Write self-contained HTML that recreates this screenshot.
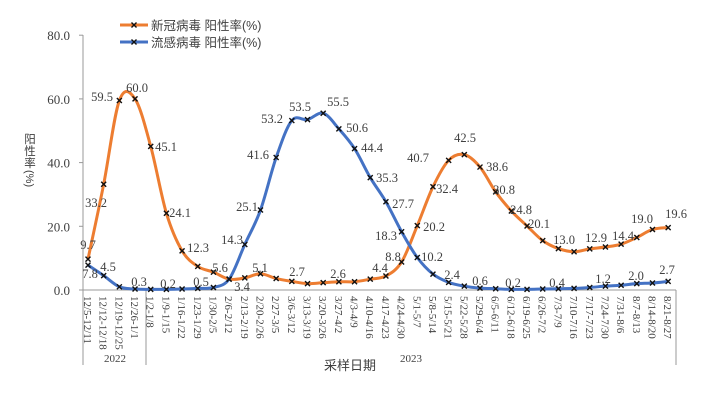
<!DOCTYPE html>
<html><head><meta charset="utf-8"><style>
body{margin:0;background:#fff;width:709px;height:407px;overflow:hidden}
svg text{font-family:"Liberation Serif","Noto Serif CJK SC",serif;fill:#404040}
.cj{font-family:"Liberation Sans","Noto Sans CJK SC",sans-serif}
</style></head><body>
<svg id="s" width="709" height="407" xmlns="http://www.w3.org/2000/svg"></svg>
<script>
const cats=["12/5-12/11","12/12-12/18","12/19-12/25","12/26-1/1","1/2-1/8","1/9-1/15","1/16-1/22","1/23-1/29","1/30-2/5","2/6-2/12","2/13-2/19","2/20-2/26","2/27-3/5","3/6-3/12","3/13-3/19","3/20-3/26","3/27-4/2","4/3-4/9","4/10-4/16","4/17-4/23","4/24-4/30","5/1-5/7","5/8-5/14","5/15-5/21","5/22-5/28","5/29-6/4","6/5-6/11","6/12-6/18","6/19-6/25","6/26-7/2","7/3-7/9","7/10-7/16","7/17-7/23","7/24-7/30","7/31-8/6","8/7-8/13","8/14-8/20","8/21-8/27"];
const cov=[9.7,33.2,59.5,60.0,45.1,24.1,12.3,7.4,5.6,3.4,3.8,5.1,3.6,2.7,2.0,2.3,2.6,2.6,3.4,4.4,8.8,20.2,32.4,40.7,42.5,38.6,30.8,24.8,20.1,15.5,13.0,12.0,12.9,13.5,14.4,16.5,19.0,19.6];
const flu=[7.8,4.5,1.0,0.3,0.2,0.2,0.3,0.5,0.8,3.4,14.3,25.1,41.6,53.2,53.5,55.5,50.6,44.4,35.3,27.7,18.3,10.2,5.0,2.4,1.2,0.6,0.4,0.2,0.2,0.3,0.4,0.5,0.8,1.2,1.5,2.0,2.2,2.7];
const X=i=>88+i*15.68, Y=v=>290-v*3.185;
let h='';
h+='<line x1="83" y1="35" x2="83" y2="290" stroke="#999"/>';
[0,20,40,60,80].forEach(v=>{h+=`<line x1="79" y1="${Y(v)}" x2="83" y2="${Y(v)}" stroke="#999"/><text x="70" y="${Y(v)+5}" font-size="13" text-anchor="end">${v.toFixed(1)}</text>`;});
h+='<line x1="83" y1="290" x2="676" y2="290" stroke="#999"/>';
h+='<line x1="83" y1="290" x2="83" y2="365" stroke="#999"/><line x1="146" y1="290" x2="146" y2="365" stroke="#999"/><line x1="676" y1="290" x2="676" y2="365" stroke="#999"/>';
cats.forEach((c,i)=>{h+=`<text transform="translate(${X(i)-4},296) rotate(90)" font-size="11">${c}</text>`;});
h+='<text x="115" y="362" font-size="11" text-anchor="middle">2022</text><text x="411" y="362" font-size="11" text-anchor="middle">2023</text>';
h+='<text class="cj" x="350" y="370" font-size="13" fill="#555" text-anchor="middle">采样日期</text>';
h+='<text class="cj" x="30" y="143" font-size="11.5" text-anchor="middle">阳</text><text class="cj" x="30" y="155" font-size="11.5" text-anchor="middle">性</text><text class="cj" x="30" y="167" font-size="11.5" text-anchor="middle">率</text>';
h+='<text class="cj" transform="translate(26,170) rotate(90)" font-size="11">(%)</text>';
function path(d){const p=d.map((v,i)=>[X(i),Y(v)]);let s=`M${p[0][0]},${p[0][1]}`;for(let i=0;i<p.length-1;i++){const a=p[i-1]||p[i],b=p[i],c=p[i+1],e=p[i+2]||c;s+=` C${b[0]+(c[0]-a[0])/6},${b[1]+(c[1]-a[1])/6} ${c[0]-(e[0]-b[0])/6},${c[1]-(e[1]-b[1])/6} ${c[0]},${c[1]}`;}return s;}
function mk(x,y){return `<path d="M${x-2.5},${y-2.5}L${x+2.5},${y+2.5}M${x-2.5},${y+2.5}L${x+2.5},${y-2.5}" stroke="#111" stroke-width="1.4"/>`;}
h+=`<path d="${path(cov)}" fill="none" stroke="#ED7D31" stroke-width="3"/>`;
h+=`<path d="${path(flu)}" fill="none" stroke="#4472C4" stroke-width="3"/>`;
cov.forEach((v,i)=>h+=mk(X(i),Y(v)));flu.forEach((v,i)=>h+=mk(X(i),Y(v)));
const L=[["9.7",88,249],["33.2",96,207],["59.5",102,101],["60.0",137,92],["45.1",166,151],["24.1",180,217],["12.3",198,252],["5.6",220,272],["3.4",242,291],["14.3",232,244],["25.1",247,211],["41.6",258,159],["53.2",272,123],["53.5",300,111],["55.5",338,106],["50.6",357,132],["44.4",372,152],["35.3",387,182],["27.7",403,208],["18.3",386,240],["10.2",432,261],["20.2",434,231],["32.4",447,193],["40.7",418,162],["42.5",465,142],["38.6",497,171],["30.8",504,194],["24.8",521,214],["20.1",539,228],["13.0",564,244],["12.9",596,242],["14.4",623,240],["19.0",642,223],["19.6",676,218],["5.1",260,272],["2.7",297,276],["2.6",338,278],["4.4",380,272],["8.8",393,261],["7.8",90,278],["4.5",108,271],["0.3",139,286],["0.2",168,288],["0.5",201,286],["2.4",452,279],["0.6",480,285],["0.2",513,287],["0.4",557,287],["1.2",603,283],["2.0",636,280],["2.7",667,274]];
L.forEach(l=>h+=`<text x="${l[1]}" y="${l[2]}" font-size="12.5" text-anchor="middle">${l[0]}</text>`);
h+='<line x1="120" y1="25" x2="148" y2="25" stroke="#ED7D31" stroke-width="3"/>'+mk(134,25);
h+='<line x1="120" y1="42" x2="148" y2="42" stroke="#4472C4" stroke-width="3"/>'+mk(134,42);
h+='<text class="cj" x="151" y="30" font-size="12.5">新冠病毒 阳性率(%)</text><text class="cj" x="151" y="47" font-size="12.5">流感病毒 阳性率(%)</text>';
document.getElementById('s').innerHTML=h;
</script>
</body></html>
